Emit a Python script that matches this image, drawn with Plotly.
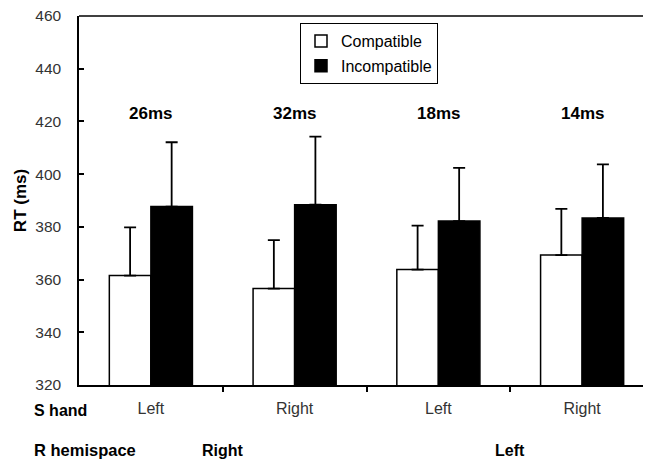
import plotly.graph_objects as go

# ---- data ----
s_hand = ["Left", "Right", "Left", "Right"]
r_hemispace = ["Right", "Left"]
compatible = [361.5, 356.6, 363.8, 369.3]
incompatible = [387.7, 388.4, 382.2, 383.4]
compatible_err = [18.3, 18.4, 16.7, 17.5]
incompatible_err = [24.4, 25.8, 20.2, 20.3]
diff_labels = ["26ms", "32ms", "18ms", "14ms"]
y_ticks = [320, 340, 360, 380, 400, 420, 440, 460]

FONT = "Liberation Sans, Arial, sans-serif"
xs = list(range(len(s_hand)))
PW, PH = 575, 369  # plot area size in px

fig = go.Figure()
fig.add_trace(go.Bar(
    x=xs, y=compatible, name="Compatible", legendgroup="a",
    marker=dict(color="white", line=dict(color="black", width=1.5)),
    error_y=dict(type="data", symmetric=False, array=compatible_err,
                 arrayminus=[0] * 4, color="black", thickness=1.8, width=6),
))
fig.add_trace(go.Bar(
    x=xs, y=incompatible, name="Incompatible", legendgroup="b",
    marker=dict(color="black", line=dict(color="black", width=1.5)),
    error_y=dict(type="data", symmetric=False, array=incompatible_err,
                 arrayminus=[0] * 4, color="black", thickness=1.8, width=6),
))

annotations = []
for x, t in zip(xs, diff_labels):
    annotations.append(dict(x=x, y=423, xref="x", yref="y", text=t, showarrow=False,
                            font=dict(family=FONT, size=17, color="black", weight="bold")))
# R hemispace labels centred on group boundaries
ROW2 = -65 / PH
for i, t in enumerate(r_hemispace):
    annotations.append(dict(x=2 * i + 0.5, y=ROW2, xref="x", yref="paper", text=t,
                            showarrow=False, yanchor="middle",
                            font=dict(family=FONT, size=16, color="black", weight="bold")))
annotations.append(dict(x=-47 / PW, y=-25 / PH, xref="paper", yref="paper", text="S hand",
                        showarrow=False, xanchor="left", yanchor="middle",
                        font=dict(family=FONT, size=16, color="black", weight="bold")))
annotations.append(dict(x=-47 / PW, y=ROW2, xref="paper", yref="paper", text="R hemispace",
                        showarrow=False, xanchor="left", yanchor="middle",
                        font=dict(family=FONT, size=16.5, color="black", weight="bold")))

fig.update_layout(
    width=651, height=462,
    margin=dict(l=71, r=5, t=8, b=85, pad=0, autoexpand=False),
    paper_bgcolor="white", plot_bgcolor="white",
    barmode="group", bargap=0.422, bargroupgap=0,
    font=dict(family=FONT, size=16, color="#333"),
    showlegend=True,
    legend=dict(x=(300 - 79) / PW, y=(385 - 23) / PH, xanchor="left", yanchor="top",
                bordercolor="black", borderwidth=1, bgcolor="white",
                font=dict(family=FONT, size=16, color="black"),
                traceorder="grouped", tracegroupgap=1),
    xaxis=dict(range=[-0.5, 3.5], tickmode="array", tickvals=xs, ticktext=s_hand,
               ticks="", showline=True, linecolor="black", linewidth=1.5,
               showgrid=False, zeroline=False, ticklabelstandoff=8, automargin=False,
               tickfont=dict(family=FONT, size=16, color="#333"),
               minor=dict(tickmode="array", tickvals=[0.5, 1.5, 2.5], ticks="outside",
                          ticklen=5, tickwidth=1.5, tickcolor="black", showgrid=False)),
    yaxis=dict(range=[320, 460], tickmode="array", tickvals=y_ticks,
               ticks="inside", ticklen=5, tickwidth=1.5, tickcolor="black",
               showline=True, linecolor="black", linewidth=1.5,
               showgrid=False, zeroline=False, ticklabelstandoff=13, automargin=False,
               ticklabeloverflow="allow",
               tickfont=dict(family=FONT, size=15.5, color="#333"),
               title=dict(text="RT (ms)", standoff=4,
                          font=dict(family=FONT, size=17, color="black", weight="bold"))),
    annotations=annotations,
    shapes=[dict(type="line", xref="paper", yref="paper", x0=0, x1=1, y0=1, y1=1,
                 line=dict(color="black", width=1.5))],
)

fig.write_html("out.html")
